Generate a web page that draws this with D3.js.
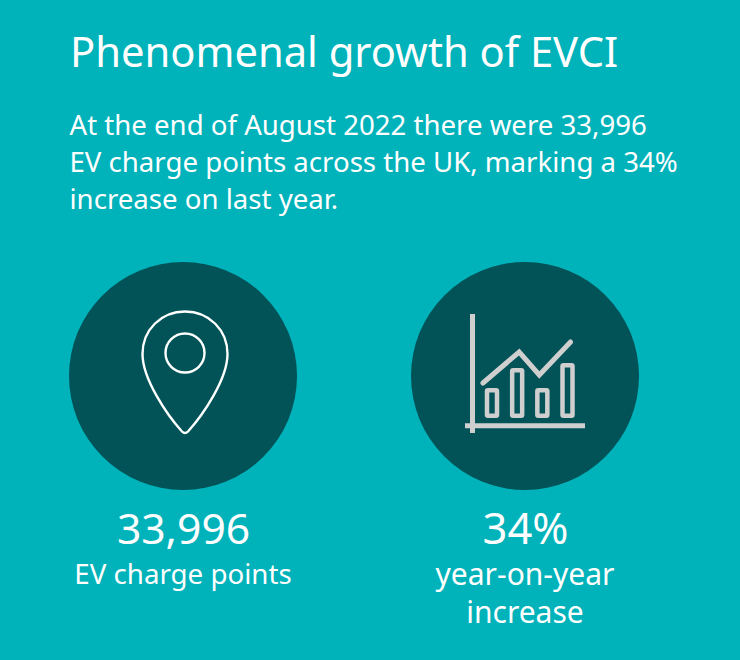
<!DOCTYPE html>
<html>
	<head>
		<meta charset="utf-8">
		<style type="text/css">
			html, body { margin: 0; padding: 0; background: #00b2ba; }
			svg { display: block; }
			text { font-family: "Noto Sans", sans-serif; fill: #fff; }
		</style>
		<title>Phenomenal growth of EVCI</title>
	</head>
	<body>
		<script src="https://cdn.jsdelivr.net/npm/d3@7"></script>
		<script>

		var titleText = "Phenomenal growth of EVCI";
		var introLines = [
			"At the end of August 2022 there were 33,996",
			"EV charge points across the UK, marking a 34%",
			"increase on last year."
		];
		var statValues = ["33,996", "34%"];
		var statLabels = [["EV charge points"], ["year-on-year", "increase"]];

		// little chart in the right hand icon, values on a 0-100 scale
		var iconBarSlots = [0, 1, 2, 3];
		var iconBarValues = [30, 50, 30, 55];
		var iconLineSlots = [-0.36, 1.08, 1.88, 3.12];
		var iconLineValues = [35, 66, 43, 76];

		var width = 740;
		var height = 660;
		var teal = "#00b2ba";
		var dark = "#015357";
		var grey = "#cfcfcf";

		var svg = d3.select("body").append("svg")
			.attr("width", width)
			.attr("height", height);

		svg.append("rect")
			.attr("width", width)
			.attr("height", height)
			.attr("fill", teal);

		svg.append("text")
			.attr("x", 70)
			.attr("y", 67)
			.attr("font-size", 41.7)
			.text(titleText);

		svg.selectAll("text.intro")
			.data(introLines)
			.enter()
			.append("text")
			.attr("class", "intro")
			.attr("x", 69.5)
			.attr("y", function(d, i) { return 135 + i * 37; })
			.attr("font-size", 27.6)
			.text(function(d) { return d; });

		// the two circles
		var circleX = d3.scalePoint().domain([0, 1]).range([183, 525]);

		svg.selectAll("circle.disc")
			.data(statValues)
			.enter()
			.append("circle")
			.attr("class", "disc")
			.attr("cx", function(d, i) { return circleX(i); })
			.attr("cy", 376)
			.attr("r", 114)
			.attr("fill", dark);

		svg.selectAll("text.stat")
			.data(statValues)
			.enter()
			.append("text")
			.attr("class", "stat")
			.attr("x", function(d, i) { return circleX(i) + 0.5; })
			.attr("y", 544)
			.attr("text-anchor", "middle")
			.attr("font-size", function(d, i) { return i ? 43.5 : 42.6; })
			.text(function(d) { return d; });

		statLabels.forEach(function(lines, i) {
			svg.selectAll("text.label" + i)
				.data(lines)
				.enter()
				.append("text")
				.attr("class", "label" + i)
				.attr("x", circleX(i))
				.attr("y", function(d, j) { return (i ? 585 : 584) + j * 37.5; })
				.attr("text-anchor", "middle")
				.attr("font-size", i ? 30 : 27.7)
				.text(function(d) { return d; });
		});

		// pin icon
		var pin = svg.append("g")
			.attr("transform", "translate(185,353)")
			.attr("fill", "none")
			.attr("stroke", "#fff")
			.attr("stroke-width", 2.4);

		pin.append("path")
			.attr("stroke-linejoin", "round")
			.attr("d", "M0,-41.5 C24,-41.5 42.5,-23 42.5,1 C42.5,26 18,62 3,78.5 Q0,81.5 -3,78.5 C-18,62 -42.5,26 -42.5,1 C-42.5,-23 -24,-41.5 0,-41.5 Z");

		pin.append("circle")
			.attr("r", 19.5);

		// bar and line icon
		var iconX = d3.scaleLinear().domain([0, 3]).range([492, 567.5]);
		var iconY = d3.scaleLinear().domain([0, 100]).range([418, 318]);
		var barWidth = 14.5;
		var iconStroke = 4.5;

		var icon = svg.append("g")
			.attr("stroke", grey)
			.attr("fill", "none");

		icon.append("line")
			.attr("x1", 472.5).attr("x2", 472.5)
			.attr("y1", 314).attr("y2", 433)
			.attr("stroke-width", 5);

		icon.append("line")
			.attr("x1", 465).attr("x2", 585)
			.attr("y1", 425.7).attr("y2", 425.7)
			.attr("stroke-width", 5);

		icon.selectAll("rect")
			.data(iconBarValues)
			.enter()
			.append("rect")
			.attr("x", function(d, i) { return iconX(iconBarSlots[i]) - barWidth / 2 + iconStroke / 2; })
			.attr("y", function(d) { return iconY(d) + iconStroke / 2; })
			.attr("width", barWidth - iconStroke)
			.attr("height", function(d) { return iconY(0) - iconY(d) - iconStroke; })
			.attr("rx", 1)
			.attr("stroke-width", iconStroke);

		var iconLine = d3.line()
			.x(function(d, i) { return iconX(iconLineSlots[i]); })
			.y(function(d) { return iconY(d); });

		icon.append("path")
			.attr("d", iconLine(iconLineValues))
			.attr("stroke-width", 5)
			.attr("stroke-linecap", "round")
			.attr("stroke-linejoin", "miter");

		</script>
	</body>
</html>
